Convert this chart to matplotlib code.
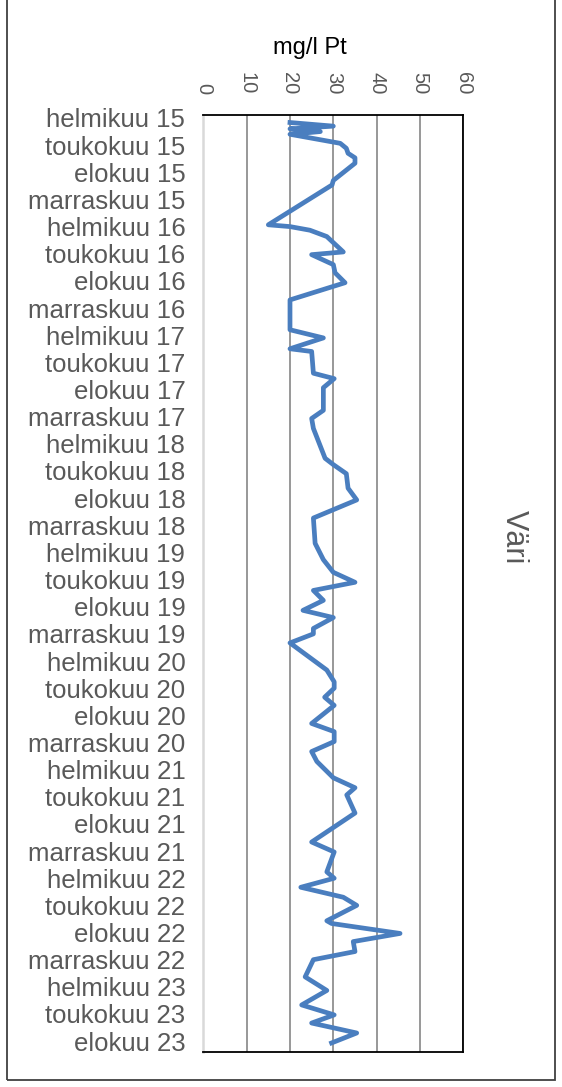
import matplotlib
matplotlib.use('Agg')
import matplotlib.pyplot as plt
from matplotlib.patches import Rectangle
import numpy as np

# months counted from helmikuu 2015 (0 = Feb 2015)
months = [0.5, 0.9, 1.2, 1.5, 1.8, 2.8, 3.35, 3.9, 4.4, 5.0,
	6.9, 7.4, 11.8, 12.0, 12.4, 13.1, 14.8, 15.1, 16.2, 17.1,
	18.2, 20.1, 23.4, 24.3, 25.5, 25.8, 28.2, 28.8, 29.8, 32.3,
	33.2, 34.3, 37.6, 38.3, 39.3, 40.9, 42.2, 44.2, 47.0, 48.8,
	50.2, 51.3, 52.2, 53.3, 54.4, 55.2, 56.4, 57.0, 58.0, 61.0,
	62.3, 63.0, 64.0, 64.9, 66.9, 67.8, 68.9, 70.0, 71.1, 72.9,
	74.0, 74.8, 76.8, 80.0, 81.1, 83.3, 84.0, 85.0, 86.1, 87.0,
	88.7, 89.0, 90.1, 91.0, 92.1, 93.0, 94.9, 96.4, 98.0, 99.1,
	100.0, 101.1, 102.2]
vari = [20, 30, 20, 27, 20, 31.6, 33, 33.4, 35, 35,
	30, 29.7, 15, 20, 24.6, 28.5, 32.3, 25, 30, 30.4,
	32.7, 20, 20, 27.7, 20, 25, 25.4, 30.2, 27.7, 27.7,
	25, 25.4, 28.1, 30, 33, 33.4, 35.4, 25.4, 25.8, 27.7,
	30, 35, 25.4, 27.7, 23, 30, 25.4, 25.4, 20, 28.5,
	30.2, 30.2, 28, 30.2, 25, 30.2, 30.2, 25, 26.2, 30,
	35, 33.1, 35, 25, 30.2, 28.5, 30.2, 22.5, 32.3, 35.4,
	28.5, 29.6, 45.4, 34.6, 35, 25.4, 23.5, 28.5, 22.7, 30.2,
	25, 35.4, 29.6]

kuut = ['helmikuu', 'toukokuu', 'elokuu', 'marraskuu']
tick_months = list(range(0, 103, 3))
tick_labels = []
for i, m in enumerate(tick_months):
	year = 15 + (m + 1) // 12
	tick_labels.append(kuut[i % 4] + ' ' + str(year))

x_ticks = [0, 10, 20, 30, 40, 50, 60]


def main():
	plt.rcParams['font.family'] = ['Liberation Sans', 'DejaVu Sans']
	fig = plt.figure(figsize=(5.62, 10.87), dpi=100)
	ax = fig.add_axes([0.3618, 0.0322, 0.4626, 0.862])

	ax.plot(vari, months, color='#4a7ebf', linewidth=3.4, solid_joinstyle='round')

	ax.set_xlim(0, 60)
	ax.set_ylim(103.2, -0.33)
	ax.set_xticks(x_ticks)
	ax.set_yticks(tick_months)
	ax.set_yticklabels(tick_labels)

	ax.xaxis.tick_top()
	ax.tick_params(axis='x', length=0, pad=15, labelsize=14.5, labelcolor='#595959',
		labelrotation=-90)
	ax.tick_params(axis='y', length=0, pad=13, labelsize=18.5, labelcolor='#595959')

	ax.grid(axis='x', color='#868686', linewidth=1.2)
	ax.set_axisbelow(True)
	for s in ['top', 'right', 'bottom']:
		ax.spines[s].set_color('black')
		ax.spines[s].set_linewidth(1.3)
	ax.spines['left'].set_color('#d9d9d9')
	ax.spines['left'].set_linewidth(1.8)

	fig.text(310 / 562, 1 - 48 / 1087, 'mg/l Pt', fontsize=17, color='black',
		ha='center', va='center')
	fig.text(514 / 562, 1 - 537 / 1087, 'Väri', fontsize=22, color='#595959',
		rotation=-90, ha='center', va='center')

	# chart area border (top edge is cut off in the picture)
	border = Rectangle((7 / 562, 7 / 1087), 548 / 562, 1.1, transform=fig.transFigure,
		fill=False, edgecolor='#404040', linewidth=1.3, clip_on=False)
	fig.patches.append(border)

	fig.savefig('out.png', dpi=100)

main()
